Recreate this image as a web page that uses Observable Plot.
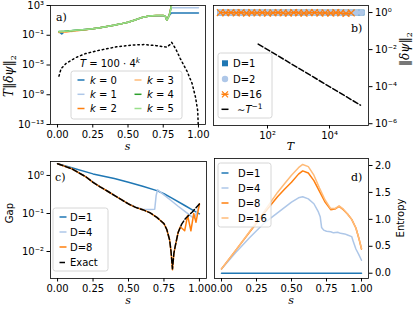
<!DOCTYPE html>
<html><head><meta charset="utf-8">
<script src="https://cdn.jsdelivr.net/npm/d3@7"></script>
<script src="https://cdn.jsdelivr.net/npm/@observablehq/plot@0.6"></script>
<style>
body{margin:0;background:#fff;}
#root{position:relative;width:415px;height:309px;overflow:hidden;background:#fff;}
#root svg{position:absolute;}
</style></head><body><div id="root"></div>
<script>
// ---------- Panel a data ----------
const sA = [0.01,0.03,0.05,0.08,0.1,0.15,0.2,0.25,0.3,0.35,0.4,0.45,0.5,0.55,0.6,0.65,0.7,0.75,0.765,0.775,0.785,0.795,0.805,0.815];
const aK5 = [0.32,0.33,0.35,0.38,0.42,0.5,0.6,0.76,1.0,1.5,2.2,3.4,5.6,11,25,40,44,46,35,11,20,63,400,5000];
const aK4 = [0.31,0.33,0.34,0.38,0.41,0.5,0.6,0.75,1.0,1.5,2.2,3.4,5.6,11,25,40,44,46,35,11,21,70,500,5000];
const aK3 = [0.27,0.31,0.28,0.35,0.33,0.47,0.58,0.75,1.0,1.5,2.2,3.4,5.6,11,25,40,44,46,35,11,22,80,600,5000];
const aK2 = [0.24,0.29,0.25,0.31,0.36,0.44,0.56,0.74,1.0,1.5,2.2,3.4,5.6,11,25,40,44,46,35,11,22,80,600,5000];
const sA01 = [0.01,0.03,0.05,0.08,0.1,0.15,0.2,0.25,0.3,0.35,0.4,0.45,0.5,0.55,0.6,0.65,0.7,0.75,0.765,0.775,0.79,0.808,1.0];
const aK1 = [0.3,0.32,0.34,0.37,0.41,0.5,0.6,0.75,1.0,1.5,2.2,3.4,5.6,11,25,40,42,44,35,11,50,480,480];
const aK0 = [0.3,0.15,0.33,0.37,0.4,0.49,0.59,0.74,1.0,1.5,2.2,3.4,5.6,11,24,38,40,41,33,11,40,100,95];
const sDot = [0.01,0.025,0.06,0.13,0.2,0.3,0.42,0.54,0.62,0.7,0.775,0.795,0.81,0.84,0.87,0.92,0.955,0.98,0.995,1.0];
const vDot = [3.2e-7,3.2e-6,1.6e-5,1e-4,3.5e-4,1e-3,2.8e-3,5e-3,5.6e-3,4e-3,2.5e-3,5e-3,1.1e-2,1.3e-3,8e-5,1.3e-6,3.2e-8,4e-10,6.3e-12,1e-14];
const kLabels = ["0","1","2","3","4","5"];
const aTicksY = [1e3,1e-1,1e-5,1e-9,1e-13];
const sTicks = [0,0.25,0.5,0.75,1];

// ---------- Panel b data ----------
const Tb = [3,4.5,6.6,9.8,14,21,31,46,68,100,150,220,320,470,700,1000,1500,2200,3300,4900,7200,11000,16000,23000,34000,50000,74000,108000];
const bD1 = [1,1,1,1,1,1,1,1,1,1,1,1,1,1,1,1,1,1,1,1,1,1,1,1,1,1,1,1];
const bD2 = [1,1,1,1,1,1,1,1,1,1,1,1,1,1,1,1,1,1,1,1,1,1,1,1,1,1,1,1];
const bD16 = [1.0,0.97,1.0,0.95,1.0,0.93,0.98,0.95,1.0,0.92,0.97,1.0,0.95,0.93,1.0,0.96,0.92,0.98,1.0,0.94,0.97,0.93,0.98,0.95,0.9,0.95];
const TLine = [50,100000];
const vLine = [0.02,0.00001];
const bTicksX = [1e2,1e4];
const bTicksY = [1,1e-2,1e-4,1e-6];

// ---------- Panel c data ----------
const sEx = [0,0.1,0.2,0.25,0.3,0.35,0.4,0.45,0.5,0.55,0.6,0.65,0.7,0.75,0.77,0.79,0.8,0.81,0.82,0.83,0.85,0.875,0.9,0.95,1.0];
const gEx = [2.04,1.5,0.92,0.66,0.5,0.39,0.3,0.23,0.178,0.145,0.126,0.105,0.079,0.054,0.038,0.02,0.01,0.0035,0.0089,0.0141,0.0316,0.0525,0.0724,0.11,0.178];
const sC8 = [0,0.1,0.2,0.25,0.3,0.35,0.4,0.45,0.5,0.55,0.6,0.65,0.7,0.75,0.77,0.79,0.8,0.81,0.82,0.83,0.85,0.865,0.896,0.917,0.94,0.96,0.976,1.0];
const gC8 = [2.04,1.5,0.92,0.66,0.5,0.39,0.3,0.23,0.178,0.145,0.126,0.105,0.079,0.054,0.038,0.02,0.01,0.0033,0.0089,0.0141,0.0316,0.045,0.035,0.089,0.035,0.1,0.059,0.18];
const sC4 = [0,0.1,0.2,0.3,0.4,0.5,0.55,0.6,0.65,0.685,0.695,0.705,0.75,0.8,0.85,0.9,0.95,0.965,1.0];
const gC4 = [2.04,1.5,0.92,0.5,0.3,0.18,0.148,0.13,0.127,0.13,0.3,0.42,0.31,0.22,0.155,0.112,0.08,0.076,0.16];
const sC1 = [0,0.1,0.25,0.4,0.5,0.6,0.7,0.75,0.8,0.9,0.95,1.0];
const gC1 = [2.04,1.6,1.1,0.83,0.66,0.52,0.4,0.33,0.26,0.16,0.125,0.098];
const cTicksY = [1,1e-1,1e-2];

// ---------- Panel d data ----------
const sD = [0,0.1,0.2,0.3,0.4,0.45,0.5,0.55,0.58,0.62,0.66,0.7,0.74,0.78,0.81,0.84,0.87,0.9,0.93,0.96,0.98,1.0];
const eD8 = [0.08,0.42,0.76,1.1,1.42,1.56,1.69,1.84,1.9,1.86,1.72,1.52,1.32,1.18,1.19,1.24,1.18,1.1,1.0,0.84,0.66,0.45];
const eD16 = [0.08,0.42,0.77,1.13,1.5,1.66,1.82,1.96,2.02,1.98,1.82,1.58,1.36,1.2,1.2,1.25,1.19,1.1,1.0,0.84,0.66,0.46];
const sD4 = [0,0.1,0.2,0.3,0.4,0.5,0.55,0.58,0.62,0.66,0.69,0.705,0.715,0.73,0.75,0.78,0.8,0.83,0.85,0.88,0.9,0.93,0.94,0.96,0.98,1.0];
const eD4 = [0.08,0.38,0.66,0.92,1.12,1.32,1.4,1.42,1.38,1.29,1.15,1.05,0.85,0.8,0.78,0.77,0.75,0.76,0.74,0.73,0.71,0.68,0.6,0.45,0.35,0.24];
const sD1 = [0,1];
const eD1 = [0,0];
const dTicksY = [0,0.5,1,1.5,2];

// ---------- colours ----------
const C = {blue:"#1f77b4", lblue:"#aec7e8", orange:"#ff7f0e", lorange:"#ffbb78", green:"#2ca02c", lgreen:"#98df8a"};
const kColors = [C.blue,C.lblue,C.orange,C.lorange,C.green,C.lgreen];

// ---------- helpers ----------
const sans = "'DejaVu Sans', sans-serif";
const serif = "'DejaVu Serif', serif";
const supMap = {"-":"⁻","0":"⁰","1":"¹","2":"²","3":"³","4":"⁴","5":"⁵","6":"⁶","7":"⁷","8":"⁸","9":"⁹"};
const logFmt = d => "10" + String(Math.round(Math.log10(d))).split("").map(c => supMap[c]).join("");
const rows = (xs, ys, extra={}) => xs.map((x,i)=>({x, y: ys[i], ...extra}));
const style = {fontFamily: sans, fontSize: "10px", color: "black", background: "transparent", overflow: "visible"};
const axisOpts = {tickSize: 3.5, tickPadding: 3, label: null};
const root = document.getElementById("root");
function place(svg, left, top){ svg.style.left = left+"px"; svg.style.top = top+"px"; root.appendChild(svg); return svg; }

function addText(svg, ox, oy, x, y, parts, opts={}) {
  const t = d3.select(svg).append("text")
    .attr("x", x-ox).attr("y", y-oy)
    .attr("font-family", opts.family || sans).attr("font-size", opts.size || 10)
    .attr("text-anchor", opts.anchor || "start").attr("fill", "black");
  if (opts.rotate) t.attr("transform", `rotate(-90 ${x-ox} ${y-oy})`);
  parts.forEach(p => {
    if (typeof p === "string") { t.append("tspan").text(p); return; }
    const s = t.append("tspan").text(p.t);
    if (p.i) s.attr("font-style","italic");
    if (p.f) s.attr("font-family", p.f);
    if (p.size) s.attr("font-size", p.size);
    if (p.dy) s.attr("dy", p.dy);
  });
  return t;
}

function legend(svg, ox, oy, box, items) {
  const g = d3.select(svg).append("g");
  g.append("rect").attr("x",box.x-ox).attr("y",box.y-oy).attr("width",box.w).attr("height",box.h)
    .attr("rx",2.5).attr("fill","white").attr("fill-opacity",0.8).attr("stroke","#cccccc").attr("stroke-width",0.8);
  items.forEach(it => {
    const cy = it.y - oy;
    if (it.line) {
      g.append("line").attr("x1", it.hx - ox).attr("x2", it.hx + it.hl - ox).attr("y1", cy).attr("y2", cy)
        .attr("stroke", it.color).attr("stroke-width", 1.5).attr("stroke-dasharray", it.dash || null);
    }
    const mx = it.hx + it.hl/2 - ox;
    if (it.marker === "square") g.append("rect").attr("x", mx-3).attr("y", cy-3).attr("width",6).attr("height",6).attr("fill", it.color);
    if (it.marker === "circle") g.append("circle").attr("cx", mx).attr("cy", cy).attr("r",3.2).attr("fill", it.color);
    if (it.marker === "times") g.append("path").attr("d", `M${mx-3},${cy-3}L${mx+3},${cy+3}M${mx-3},${cy+3}L${mx+3},${cy-3}`).attr("stroke", it.color).attr("stroke-width",1.2);
    addText(svg, ox, oy, it.tx, it.y + 3.6, it.label);
  });
}

// ---------- Panel a ----------
const kData = [[sA01,aK0],[sA01,aK1],[sA,aK2],[sA,aK3],[sA,aK4],[sA,aK5]];
const svgA = place(Plot.plot({
  width: 210, height: 155, marginLeft: 50, marginRight: 5, marginTop: 5, marginBottom: 31, style,
  x: {domain: [-0.05, 1.05], ticks: sTicks, tickFormat: d3.format(".2f"), ...axisOpts},
  y: {type: "log", domain: [1e-13, 1e3], ticks: aTicksY, tickFormat: logFmt, ...axisOpts},
  marks: [
    Plot.line(rows(sDot, vDot), {x:"x", y:"y", stroke:"black", strokeWidth:1.5, strokeDasharray:"1.5,3", clip:true}),
    ...kData.map(([s,v],i) => Plot.line(rows(s, v), {x:"x", y:"y", stroke:kColors[i], strokeWidth:1.5, clip:true})),
    Plot.frame({stroke:"black", strokeWidth:0.8})
  ]
}), 0, 0);
addText(svgA,0,0,56,21,["a)"],{family:serif,size:11});
addText(svgA,0,0,127.5,149.5,[{t:"s",i:true}],{family:serif,size:11,anchor:"middle"});
addText(svgA,0,0,13,76,[{t:"T",i:true},"‖",{t:"δψ",i:true},"‖",{t:"2",size:8,dy:3}],{family:serif,size:12,anchor:"middle",rotate:true});
addText(svgA,0,0,110,67,[{t:"T",i:true}," = 100 · 4",{t:"k",i:true,size:7.5,dy:-4}],{anchor:"middle"});
legend(svgA,0,0,{x:71,y:71,w:111,h:48},
  kLabels.map((k,i)=>({y:[80,94.3,108.5][i%3], hx: i<3?77.5:134.5, hl:7, tx: i<3?90:147, color:kColors[i], line:true,
    label:[{t:"k",i:true}," = "+k]})));

// ---------- Panel b ----------
const svgB = place(Plot.plot({
  width: 210, height: 155, marginLeft: 8, marginRight: 47, marginTop: 5, marginBottom: 30, style,
  x: {type:"log", domain:[1.81, 1.81e5], ticks: bTicksX, tickFormat: logFmt, ...axisOpts},
  y: {type:"log", domain:[8e-7, 2.4], axis:"right", ticks: bTicksY, tickFormat: logFmt, ...axisOpts},
  marks: [
    Plot.line(rows(TLine, vLine), {x:"x", y:"y", stroke:"black", strokeWidth:1.5, strokeDasharray:"5.5,2.4"}),
    Plot.dot(rows(Tb, bD1), {x:"x", y:"y", symbol:"square", fill:C.blue, r:3.3}),
    Plot.dot(rows(Tb, bD2), {x:"x", y:"y", symbol:"circle", fill:C.lblue, r:3.1}),
    Plot.line(rows(Tb.slice(0,bD16.length), bD16), {x:"x", y:"y", stroke:C.orange, strokeWidth:1.5}),
    Plot.dot(rows(Tb.slice(0,bD16.length), bD16), {x:"x", y:"y", symbol:"times", stroke:C.orange, strokeWidth:1.2, r:3.2}),
    Plot.frame({stroke:"black", strokeWidth:0.8})
  ]
}), 205, 0);
addText(svgB,205,0,351,32,["b)"],{family:serif,size:11});
addText(svgB,205,0,290.5,150,[{t:"T",i:true}],{family:serif,size:11,anchor:"middle"});
addText(svgB,205,0,409,49,["‖",{t:"δψ",i:true},"‖",{t:"2",size:8,dy:3}],{family:serif,size:12,anchor:"middle",rotate:true});
legend(svgB,205,0,{x:218,y:53,w:54,h:65},[
  {y:63.3, hx:221.5, hl:7, tx:233, color:C.blue, marker:"square", label:["D=1"]},
  {y:79, hx:221.5, hl:7, tx:233, color:C.lblue, marker:"circle", label:["D=2"]},
  {y:94.3, hx:221.5, hl:7, tx:233, color:C.orange, line:true, marker:"times", label:["D=16"]},
  {y:109.3, hx:221.5, hl:7, tx:237, color:"black", line:true, label:["∼",{t:"T",i:true},{t:"−1",size:7.5,dy:-4}]}
]);

// ---------- Panel c ----------
const svgC = place(Plot.plot({
  width: 210, height: 159, marginLeft: 50, marginRight: 4, marginTop: 11, marginBottom: 31, style,
  x: {domain: [-0.05, 1.05], ticks: sTicks, tickFormat: d3.format(".2f"), ...axisOpts},
  y: {type:"log", domain:[0.00195, 2.33], ticks: cTicksY, tickFormat: logFmt, ...axisOpts},
  marks: [
    Plot.line(rows(sC1, gC1), {x:"x", y:"y", stroke:C.blue, strokeWidth:1.5}),
    Plot.line(rows(sC4, gC4), {x:"x", y:"y", stroke:C.lblue, strokeWidth:1.5}),
    Plot.line(rows(sC8, gC8), {x:"x", y:"y", stroke:C.orange, strokeWidth:1.5}),
    Plot.line(rows(sEx, gEx), {x:"x", y:"y", stroke:"black", strokeWidth:1.5, strokeDasharray:"5.5,2.4"}),
    Plot.frame({stroke:"black", strokeWidth:0.8})
  ]
}), 0, 150);
addText(svgC,0,150,55,181,["c)"],{family:serif,size:11});
addText(svgC,0,150,128,303.5,[{t:"s",i:true}],{family:serif,size:11,anchor:"middle"});
addText(svgC,0,150,13,213,["Gap"],{anchor:"middle",rotate:true});
legend(svgC,0,150,{x:53,y:208,w:55,h:63},[
  {y:217, hx:59.5, hl:7, tx:70, color:C.blue, line:true, label:["D=1"]},
  {y:232, hx:59.5, hl:7, tx:70, color:C.lblue, line:true, label:["D=4"]},
  {y:247, hx:59.5, hl:7, tx:70, color:C.orange, line:true, label:["D=8"]},
  {y:262.5, hx:59.5, hl:7, tx:70, color:"black", line:true, dash:"5.5,2.4", label:["Exact"]}
]);

// ---------- Panel d ----------
const svgD = place(Plot.plot({
  width: 210, height: 159, marginLeft: 9, marginRight: 47, marginTop: 8, marginBottom: 31, style,
  x: {domain: [-0.05, 1.05], ticks: sTicks, tickFormat: d3.format(".2f"), ...axisOpts},
  y: {domain: [-0.098, 2.13], axis:"right", ticks: dTicksY, tickFormat: d3.format(".1f"), ...axisOpts},
  marks: [
    Plot.line(rows(sD1, eD1), {x:"x", y:"y", stroke:C.blue, strokeWidth:1.5}),
    Plot.line(rows(sD4, eD4), {x:"x", y:"y", stroke:C.lblue, strokeWidth:1.5}),
    Plot.line(rows(sD, eD8), {x:"x", y:"y", stroke:C.orange, strokeWidth:1.5}),
    Plot.line(rows(sD, eD16), {x:"x", y:"y", stroke:C.lorange, strokeWidth:1.5}),
    Plot.frame({stroke:"black", strokeWidth:0.8})
  ]
}), 205, 150);
addText(svgD,205,150,351,181,["d)"],{family:serif,size:11});
addText(svgD,205,150,291,303.5,[{t:"s",i:true}],{family:serif,size:11,anchor:"middle"});
addText(svgD,205,150,404,218,["Entropy"],{anchor:"middle",rotate:true});
legend(svgD,205,150,{x:218,y:163,w:53,h:64},[
  {y:173, hx:221.5, hl:7, tx:238, color:C.blue, line:true, label:["D=1"]},
  {y:188, hx:221.5, hl:7, tx:238, color:C.lblue, line:true, label:["D=4"]},
  {y:203, hx:221.5, hl:7, tx:238, color:C.orange, line:true, label:["D=8"]},
  {y:218, hx:221.5, hl:7, tx:238, color:C.lorange, line:true, label:["D=16"]}
]);
</script></body></html>
